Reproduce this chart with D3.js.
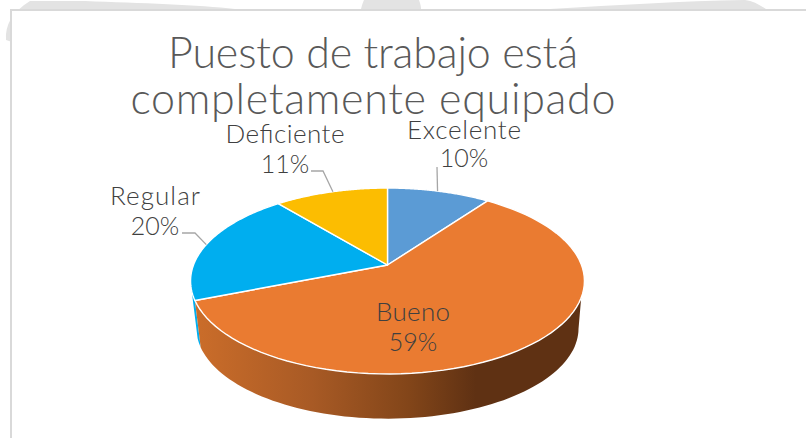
<!DOCTYPE html>
<html><head><meta charset="utf-8">
<script src="https://cdn.jsdelivr.net/npm/d3@7/dist/d3.min.js"></script>
<style>html,body{margin:0;padding:0;background:#fff}svg{display:block}text{font-family:Lato,"Open Sans",sans-serif;font-weight:300}</style>
</head><body><svg id="c" width="806" height="438"></svg>
<script>
const categories = ["Excelente","Bueno","Regular","Deficiente"];
const values = [10,59,20,11];
const colors = ["#5B9BD5","#EA7B31","#00AEEF","#FCBD01"];
const titleLines = ["Puesto de trabajo está","completamente equipado"];

const svg = d3.select("#c");
const defs = svg.append("defs");
const grad = defs.append("linearGradient").attr("id","wall").attr("gradientUnits","userSpaceOnUse")
  .attr("x1",195).attr("x2",585).attr("y1",0).attr("y2",0);
[[0,"#CB6D2A"],[0.3,"#A85A25"],[0.55,"#824519"],[0.72,"#5F3113"],[1,"#5F3113"]].forEach(s=>
  grad.append("stop").attr("offset",s[0]).attr("stop-color",s[1]));

// backdrop
svg.append("path").attr("fill","#E3E3E3").attr("d",
 "M6,40C5,25 12,12 30,1L85,1C140,3 200,5 235,9L12,9L12,42Z");
svg.append("path").attr("fill","#E3E3E3").attr("d","M361,9C362,5 363,2 364,0L419,0C420,3 421,6 421,9Z");
svg.append("path").attr("fill","#E3E3E3").attr("d","M550,9C620,5 680,1 745,0C753,1 760,5 766,9Z");
svg.append("rect").attr("x",11).attr("y",10).attr("width",796).attr("height",430)
  .attr("fill","#fff").attr("stroke","#D9D9D9").attr("stroke-width",2);

// perspective projection of the pie disc
const apex=[387.5,265], A=194, B=90.2, P=0.172;
const project=(t,r,level)=>{
  const x=r*Math.sin(t), y=-r*Math.cos(t), w=1-P*y;
  const s=level?0.97:1, oy=level?48:0;
  return [apex[0]+s*A*x/w, apex[1]+oy+s*B*y/w];
};
const line=d3.line();
const arcs=d3.pie().sort(null).value(d=>d)(values);
const samples=(a,b,n=80)=>d3.range(n+1).map(i=>a+(b-a)*i/n);
const rad=d=>d*Math.PI/180;

// walls: upper and lower rims may start at different angles (silhouette tangents)
const wallBetween=(a,b,la,lb)=>{
  return line([...samples(a,b).map(t=>project(t,1,0)),...samples(lb,la).map(t=>project(t,1,1))])+"Z";
};
const bueno=arcs[1], regular=arcs[2];
svg.append("path").attr("d",wallBetween(regular.startAngle,regular.startAngle+0.1,regular.startAngle,regular.startAngle+0.1)).attr("fill","#00AEEF");
svg.append("path").attr("d",wallBetween(rad(110),bueno.endAngle,rad(100),bueno.endAngle)).attr("fill","url(#wall)");

// tops
svg.append("g").selectAll("path").data(arcs).join("path")
  .attr("d",d=>line([apex,...samples(d.startAngle,d.endAngle).map(t=>project(t,1,0))])+"Z")
  .attr("fill",(d,i)=>colors[i]).attr("stroke","#fff").attr("stroke-width",1.4).attr("stroke-linejoin","round");

// leaders: anchored on each slice's rim
const leaderAngles=[0.305,null,4.95,5.95];
const leaderTail=[[[437,167]],null,[[182,233],[195,233]],[[311,171],[323,171]]];
categories.forEach((c,i)=>{
  if(!leaderTail[i])return;
  svg.append("path").attr("fill","none").attr("stroke","#A6A6A6").attr("stroke-width",1.3)
    .attr("d",line([...leaderTail[i],project(leaderAngles[i],1,0)]));
});

// labels
const labelPos=[[464,139,167],[413,321,351],[155,205,235],[285,143,173]];
const nameWidths=[114,74,90,119];
categories.forEach((c,i)=>{
  const g=svg.append("g").attr("fill","#404040").attr("text-anchor","middle");
  g.append("text").attr("x",labelPos[i][0]).attr("y",labelPos[i][1]).attr("font-size",26)
    .attr("textLength",nameWidths[i]).text(c);
  g.append("text").attr("x",labelPos[i][0]).attr("y",labelPos[i][2]).attr("font-size",25).text(values[i]+"%");
});

// title
const titleWidths=[410,485];
svg.append("g").attr("fill","#595959").attr("font-size",43).attr("text-anchor","middle")
 .selectAll("text").data(titleLines).join("text")
 .attr("x",373).attr("y",(d,i)=>68+i*46).attr("textLength",(d,i)=>titleWidths[i]).text(d=>d);
</script></body></html>
